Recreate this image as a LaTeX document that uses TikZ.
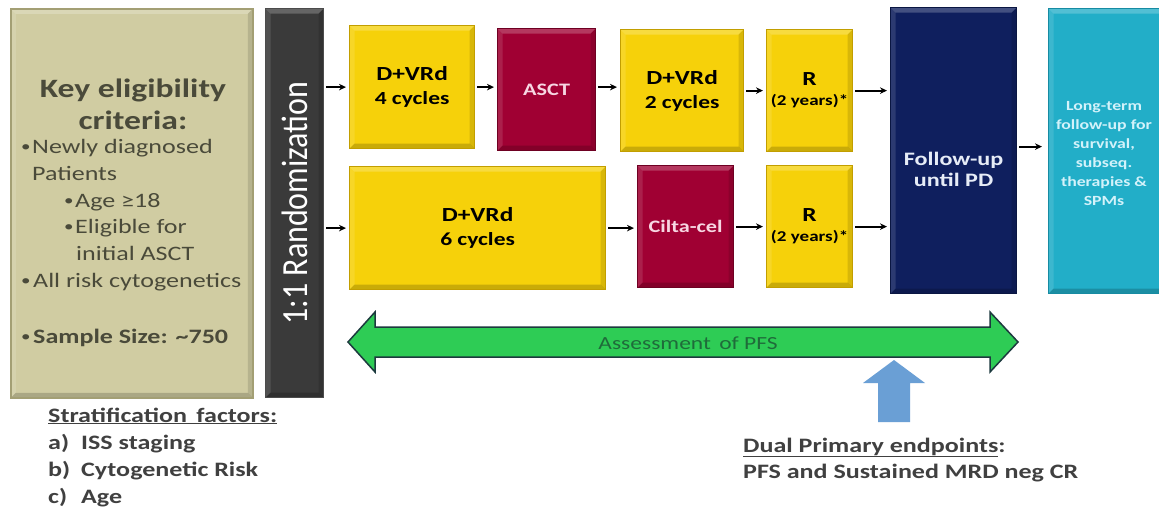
\documentclass[tikz,border=0pt]{standalone}
\usepackage{fontspec}
\setmainfont{Carlito}[FakeStretch=1.27]
\newfontfamily\randfont{Carlito}
\usetikzlibrary{arrows.meta}
\definecolor{khaki}{HTML}{D0CCA2}
\definecolor{khakiB}{HTML}{A39F74}
\definecolor{khakiT}{HTML}{4A4A3A}
\definecolor{randC}{HTML}{3A3A3A}
\definecolor{yel}{HTML}{F6D10A}
\definecolor{yelB}{HTML}{C29E00}
\definecolor{mar}{HTML}{A00033}
\definecolor{marB}{HTML}{6E0022}
\definecolor{marT}{HTML}{F7D6E2}
\definecolor{navy}{HTML}{0F1F5E}
\definecolor{navyT}{HTML}{E6ECF7}
\definecolor{teal}{HTML}{22AEC8}
\definecolor{tealB}{HTML}{178BA2}
\definecolor{tealT}{HTML}{D3F2FA}
\definecolor{grn}{HTML}{2ECC55}
\definecolor{grnB}{HTML}{1C3A3E}
\definecolor{grnT}{HTML}{1F6B3A}
\definecolor{blu}{HTML}{6A9FD5}
\definecolor{txt}{HTML}{404040}
\tikzset{
  bevel/.style={path picture={
    \fill[white,opacity=0.22] (path picture bounding box.north west) -- (path picture bounding box.north east)
      -- ([xshift=-5pt,yshift=-5pt]path picture bounding box.north east) -- ([xshift=5pt,yshift=-5pt]path picture bounding box.north west) -- cycle;
    \fill[white,opacity=0.12] (path picture bounding box.north west) -- (path picture bounding box.south west)
      -- ([xshift=5pt,yshift=5pt]path picture bounding box.south west) -- ([xshift=5pt,yshift=-5pt]path picture bounding box.north west) -- cycle;
    \fill[black,opacity=0.18] (path picture bounding box.south west) -- (path picture bounding box.south east)
      -- ([xshift=-5pt,yshift=5pt]path picture bounding box.south east) -- ([xshift=5pt,yshift=5pt]path picture bounding box.south west) -- cycle;
    \fill[black,opacity=0.12] (path picture bounding box.north east) -- (path picture bounding box.south east)
      -- ([xshift=-5pt,yshift=5pt]path picture bounding box.south east) -- ([xshift=-5pt,yshift=-5pt]path picture bounding box.north east) -- cycle;
  }},
  boxbase/.style={rectangle, anchor=north west, inner sep=0pt, align=center, line width=1.2pt, bevel},
  yelbox/.style={boxbase, fill=yel, draw=yelB, text=black, font=\bfseries\fontsize{20}{24}\selectfont},
  marbox/.style={boxbase, fill=mar, draw=marB, text=marT, font=\bfseries\fontsize{17.5}{20}\selectfont},
  arr/.style={line width=1.8pt, -{Stealth[length=7pt,width=6.5pt]}, shorten <=2pt, shorten >=3pt},
  plain/.style={anchor=base west, inner sep=0pt},
  bul/.style={anchor=base west, inner sep=0pt, font=\fontsize{15}{15}\selectfont},
}
\begin{document}
\begin{tikzpicture}[x=1pt,y=-1pt]
\useasboundingbox (0,0) rectangle (1159,507);
\fill[white] (0,0) rectangle (1159,507);
\begin{scope}
\clip (0,0) rectangle (1159,507);
% left criteria box
\node[boxbase, fill=khaki, draw=khakiB, line width=1.5pt, minimum width=242, minimum height=389] (crit) at (10,8) {};
\begin{scope}[every node/.style={plain, text=khakiT, font=\fontsize{20.5}{24}\selectfont}]
\node[anchor=base, font=\bfseries\fontsize{26.5}{30}\selectfont] (k1) at (133,97) {Key eligibility};
\node[anchor=base, font=\bfseries\fontsize{26.5}{30}\selectfont] (k2) at (133,129) {criteria:};
\node[bul] (b1a) at (21,151) {•};
\node (b1) at (32,153) {Newly diagnosed};
\node (b1b) at (32,180) {Patients};
\node[bul] (b2a) at (64,205) {•};
\node (b2) at (75,207) {Age ≥18};
\node[bul] (b3a) at (64,231) {•};
\node (b3) at (75,233) {Eligible for};
\node (b3b) at (76,260) {initial ASCT};
\node[bul] (b4a) at (21,285) {•};
\node (b4) at (33,287) {All risk cytogenetics};
\node[bul] (b5a) at (21,341) {•};
\node[font=\bfseries\fontsize{20.5}{24}\selectfont] (b5) at (33,343) {Sample Size: \textasciitilde750};
\end{scope}
% randomization bar
\node[boxbase, fill=randC, draw=black!70, minimum width=58, minimum height=389] (rand) at (265,8) {};
\node[rotate=90, text=white, font=\randfont\fontsize{32}{34}\selectfont] (randt) at (rand.center) {\scalebox{1}[1.15]{1:1 Randomization}};
% row 1
\node[yelbox, minimum width=125, minimum height=123] (d4) at (349,25) {D+VRd\\\fontsize{18.5}{24}\selectfont 4 cycles};
\node[marbox, minimum width=98, minimum height=122] (asct) at (497,28) {ASCT};
\node[yelbox, minimum width=123, minimum height=122] (d2) at (620,29) {D+VRd\\\fontsize{18.5}{24}\selectfont 2 cycles};
\node[yelbox, minimum width=86, minimum height=122] (r1) at (766,29) {R\\[-4pt]\fontsize{15}{17}\selectfont (2 years)*};
% row 2
\node[yelbox, minimum width=256, minimum height=123] (d6) at (349,166) {D+VRd\\\fontsize{18.5}{24}\selectfont 6 cycles};
\node[marbox, minimum width=96, minimum height=122] (cilta) at (637,165) {Cilta-cel};
\node[yelbox, minimum width=86, minimum height=122] (r2) at (766,165) {R\\[-4pt]\fontsize{15}{17}\selectfont (2 years)*};
% follow-up
\node[boxbase, fill=navy, draw=navy!70!black, minimum width=126, minimum height=286, text=navyT, font=\bfseries\fontsize{19}{21}\selectfont] (fu) at (890,7) {\\[30pt]Follow-up\\until PD};
\node[boxbase, fill=teal, draw=tealB, minimum width=122, minimum height=285] (lt) at (1048,8) {};
\node[text=tealT, align=center, font=\bfseries\fontsize{14}{19}\selectfont] (ltt) at (1104,154) {Long-term\\follow-up for\\survival,\\subseq.\\therapies \&\\SPMs};
% arrows
\coordinate (s1) at (rand.east |- d4.west);
\coordinate (s2) at (rand.east |- d6.west);
\draw[arr] (s1) -- (d4.west);
\draw[arr] (s2) -- (d6.west);
\draw[arr] (d4.east) -- (d4.east -| asct.west);
\draw[arr] (asct.east |- d4.east) -- (d4.east -| d2.west);
\draw[arr] (d2.east |- r1.west) -- (r1.west);
\draw[arr] (r1.east) -- (r1.east -| fu.west);
\draw[arr] (d6.east) -- (d6.east -| cilta.west);
\draw[arr] (cilta.east |- r2.west) -- (r2.west);
\draw[arr] (r2.east) -- (r2.east -| fu.west);
\coordinate (fuout) at ([yshift=4pt]fu.east);
\draw[arr, shorten >=6pt] (fuout) -- (fuout -| lt.west);
% green double arrow
\draw[fill=grn, draw=grnB, line width=1.5pt, line join=miter]
  (348,342) -- (375,312) -- (375,327) -- (990,327) -- (990,312) -- (1018,342)
  -- (990,372) -- (990,357) -- (375,357) -- (375,372) -- cycle;
\node[text=grnT, font=\fontsize{18.5}{20}\selectfont] (pfs) at (688,343) {Assessment \,of PFS};
% blue up arrow
\fill[blu] (894,360) -- (925,383) -- (910,383) -- (910,422) -- (878,422) -- (878,383) -- (863,383) -- cycle;
% stratification
\begin{scope}[every node/.style={plain, text=txt, font=\bfseries\fontsize{20.5}{24}\selectfont}]
\node (st) at (48,422) {\underline{Stratification\, factors:}};
\node (sa) at (48,449) {a)};
\node (sa2) at (81,449) {ISS staging};
\node (sb) at (48,476) {b)};
\node (sb2) at (81,476) {Cytogenetic Risk};
\node (sc) at (48,503) {c)};
\node (sc2) at (81,503) {Age};
\node (dp) at (743,452) {\underline{Dual Primary endpoints}:};
\node (dp2) at (743,478) {PFS and Sustained MRD neg CR};
\end{scope}
\end{scope}
\end{tikzpicture}
\end{document}
